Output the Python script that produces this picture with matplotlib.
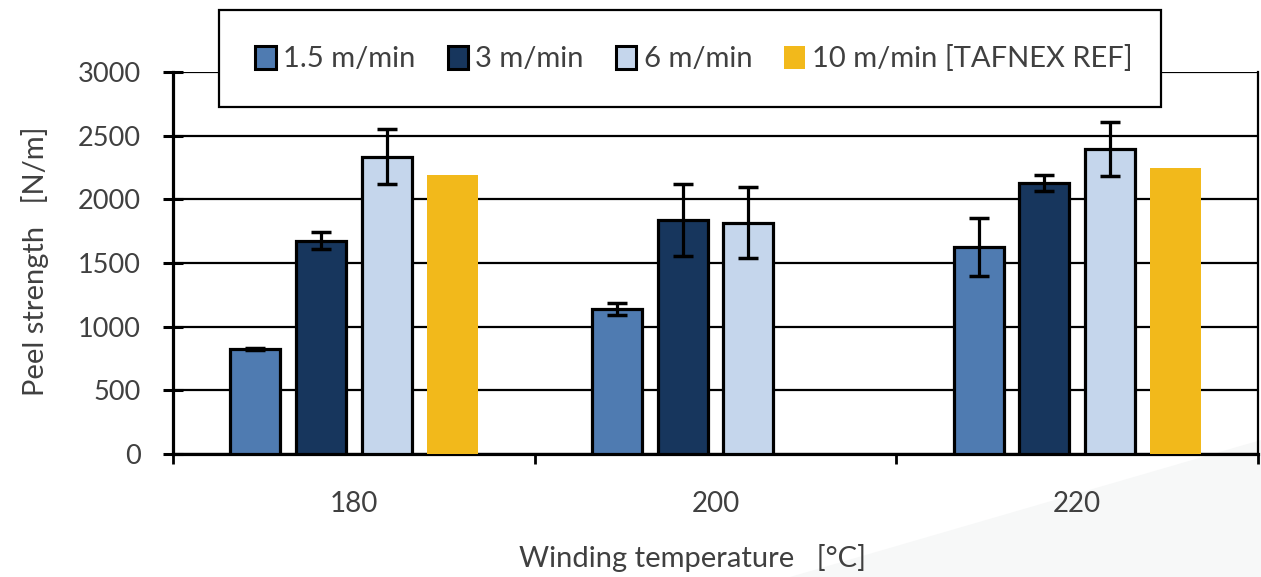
import numpy as np
import matplotlib.pyplot as plt
from matplotlib.patches import Polygon, Rectangle, Patch

plt.switch_backend('Agg')
plt.rcParams['font.family'] = ['Lato', 'DejaVu Sans']

# dados
temperaturas = ['180', '200', '220']
series = ['1.5 m/min', '3 m/min', '6 m/min', '10 m/min [TAFNEX REF]']
v_15 = [825, 1138, 1625]
v_3 = [1676, 1841, 2132]
v_6 = [2336, 1818, 2396]
v_10 = [2195, np.nan, 2245]
e_15 = [5, 45, 230]
e_3 = [65, 283, 63]
e_6 = [215, 278, 212]

cores = ['#4F7BB1', '#17365D', '#C5D6EC', '#F2B91B']
cinza = '#404040'

W, H = 1261, 577
fig = plt.figure(figsize=(W / 100, H / 100), dpi=100)

# marca d'agua clara no canto inferior direito
fig.patches.append(Polygon([(790 / W, 0), (1.0, 137 / H), (1.0, 0)], closed=True,
                           transform=fig.transFigure, facecolor='#F7F8F8',
                           edgecolor='none', zorder=-10))

ax = fig.add_axes([173 / W, (H - 454) / H, (1258 - 173) / W, (454 - 72) / H])
ax.set_facecolor('none')

x = np.arange(len(temperaturas))
passo = 0.1815
larg = 0.138
valores = [v_15, v_3, v_6, v_10]
erros = [e_15, e_3, e_6, None]

for i, (vals, errs) in enumerate(zip(valores, erros)):
    pos = x + (i - 1.5) * passo
    if errs is not None:
        ax.bar(pos, vals, width=larg, color=cores[i], edgecolor='black',
               linewidth=2.3, zorder=3)
        ax.errorbar(pos, vals, yerr=errs, fmt='none', ecolor='black',
                    elinewidth=2.3, capsize=7.5, capthick=2.5, zorder=4)
    else:
        ax.bar(pos, vals, width=larg * 1.03, color=cores[i], linewidth=0, zorder=3)

ax.set_xlim(-0.5, 2.5)
ax.set_ylim(0, 3000)
ax.set_yticks(np.arange(0, 3001, 500))
ax.set_xticks(x)
ax.set_xticklabels(temperaturas)
ax.set_xticks(np.arange(-0.5, 2.6, 1), minor=True)

ax.grid(axis='y', color='black', linewidth=1.6, zorder=0)
ax.set_axisbelow(True)

ax.tick_params(axis='x', which='major', length=0, pad=27, labelsize=20, labelcolor=cinza)
ax.tick_params(axis='x', which='minor', direction='out', length=7, width=2)
ax.tick_params(axis='y', direction='inout', length=14, width=2.2, pad=16,
               labelsize=19.5, labelcolor=cinza)

for lado in ['left', 'bottom']:
    ax.spines[lado].set_linewidth(2.3)
ax.spines['right'].set_linewidth(1.6)
ax.spines['top'].set_visible(False)

fig.text(35 / W, 1 - 261 / H, 'Peel strength   [N/m]', rotation=90,
         ha='center', va='center', fontsize=21, color=cinza)
fig.text(692 / W, 1 - 558 / H, 'Winding temperature   [°C]',
         ha='center', va='center', fontsize=21, color=cinza)

# caixa da legenda
fig.patches.append(Rectangle((219 / W, 1 - 107 / H), (1161 - 219) / W, 97 / H,
                             transform=fig.transFigure, facecolor='white',
                             edgecolor='black', linewidth=1.6, zorder=5))
alcas = [Patch(facecolor=cores[0], edgecolor='black', linewidth=2.2),
         Patch(facecolor=cores[1], edgecolor='black', linewidth=2.2),
         Patch(facecolor=cores[2], edgecolor='black', linewidth=2.2),
         Patch(facecolor=cores[3], edgecolor='none')]
leg = fig.legend(alcas, series, loc='center', bbox_to_anchor=(694 / W, 1 - 59 / H),
                 ncol=4, frameon=False, fontsize=21, handlelength=0.7,
                 handleheight=0.8, handletextpad=0.25, columnspacing=1.1,
                 labelcolor=cinza)
leg.set_zorder(6)

fig.savefig('out.png', dpi=100)
